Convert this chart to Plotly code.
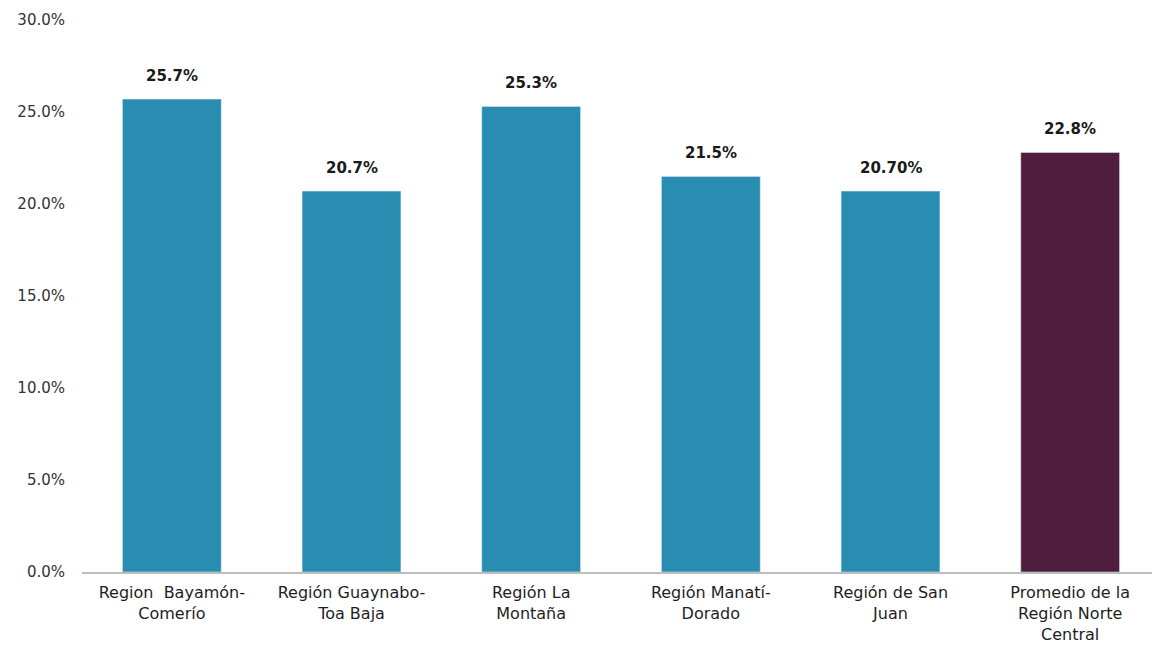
import plotly.graph_objects as go

categories = [
    "Region\u00a0 Bayamón-<br>Comerío",
    "Región Guaynabo-<br>Toa Baja",
    "Región La<br>Montaña",
    "Región Manatí-<br>Dorado",
    "Región de San<br>Juan",
    "Promedio de la<br>Región Norte<br>Central",
]
values = [25.7, 20.7, 25.3, 21.5, 20.7, 22.8]
labels = ["25.7%", "20.7%", "25.3%", "21.5%", "20.70%", "22.8%"]
colors = ["#288DB0", "#288DB0", "#288DB0", "#288DB0", "#288DB0", "#4F1E3C"]
y_ticks = [0, 5, 10, 15, 20, 25, 30]
y_tick_labels = ["0.0%", "5.0%", "10.0%", "15.0%", "20.0%", "25.0%", "30.0%"]

fig = go.Figure(
    go.Bar(
        x=categories,
        y=values,
        marker=dict(color=colors),
        width=0.55,
        hoverinfo="skip",
    )
)

for c, v, t in zip(categories, values, labels):
    fig.add_annotation(
        x=c, y=v, text=t, showarrow=False, yanchor="bottom", yshift=12,
        font=dict(family="DejaVu Sans, sans-serif", size=15, color="#1a1a1a", weight="bold"),
    )

fig.update_layout(
    width=1152,
    height=637,
    paper_bgcolor="white",
    plot_bgcolor="white",
    margin=dict(l=74, r=0, t=12, b=73),
    showlegend=False,
    font=dict(family="DejaVu Sans, sans-serif", color="#2a2a2a"),
)
fig.update_xaxes(
    showline=True,
    linecolor="#bdbdbd",
    linewidth=2,
    ticks="",
    tickfont=dict(size=16, color="#1e1e1e"),
    showgrid=False,
    automargin=False,
    ticklabelstandoff=5,
)
fig.update_yaxes(
    range=[0, 30],
    tickvals=y_ticks,
    ticktext=y_tick_labels,
    showgrid=False,
    zeroline=False,
    showline=False,
    tickfont=dict(size=15, color="#333333"),
    ticklabelstandoff=16,
    automargin=False,
)

fig.write_html("out.html")
